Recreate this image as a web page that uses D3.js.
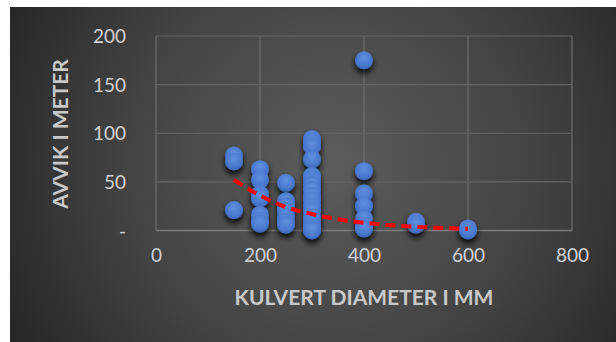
<!DOCTYPE html>
<html>
<head>
<meta charset="utf-8">
<script src="https://cdn.jsdelivr.net/npm/d3@7"></script>
<style>
  html, body { margin: 0; padding: 0; background: #ffffff; }
  svg { display: block; }
</style>
</head>
<body>
<div id="chart"></div>
<script>
// Culvert diameter (mm) vs deviation (m)
const diameters = [150, 150, 150,
  200, 200, 200, 200, 200, 200, 200,
  250, 250, 250, 250, 250, 250, 250,
  300, 300, 300, 300, 300, 300, 300, 300, 300, 300, 300, 300, 300, 300, 300, 300, 300, 300,
  400, 400, 400, 400, 400, 400, 400,
  500, 500,
  600, 600];
const deviations = [77, 71, 21,
  63, 52, 37, 33, 16, 10, 7,
  49, 30, 25, 20, 14, 9, 6,
  94, 90, 86, 73, 56, 52, 47, 42, 36, 31, 25, 20, 14, 10, 6, 3, 1, 0,
  175, 61, 38, 25, 12, 5, 2,
  9, 6,
  2, 0];

// Trend line (dashed red) sampled along the diameter range
const trendX = [150, 200, 250, 300, 350, 400, 450, 500, 550, 600];
const trendY = [52, 36, 24, 17, 11.5, 8, 5.5, 3.8, 2.6, 1.8];

const xTicks = [0, 200, 400, 600, 800];
const yTicks = [0, 50, 100, 150, 200];

const W = 616, H = 342;
const svg = d3.select("#chart").append("svg").attr("width", W).attr("height", H);
const defs = svg.append("defs");

const bg = defs.append("radialGradient").attr("id", "bg")
  .attr("gradientUnits", "userSpaceOnUse")
  .attr("cx", 330).attr("cy", 165).attr("r", 380);
bg.append("stop").attr("offset", "0%").attr("stop-color", "#5c5c5c");
bg.append("stop").attr("offset", "55%").attr("stop-color", "#424242");
bg.append("stop").attr("offset", "100%").attr("stop-color", "#232323");

const dot = defs.append("radialGradient").attr("id", "dot")
  .attr("cx", "50%").attr("cy", "35%").attr("r", "65%");
dot.append("stop").attr("offset", "0%").attr("stop-color", "#6090de");
dot.append("stop").attr("offset", "70%").attr("stop-color", "#4878ce");
dot.append("stop").attr("offset", "100%").attr("stop-color", "#3c66b6");

const shadow = defs.append("filter").attr("id", "shadow")
  .attr("x", "-60%").attr("y", "-60%").attr("width", "220%").attr("height", "240%");
shadow.append("feGaussianBlur").attr("in", "SourceAlpha").attr("stdDeviation", 3).attr("result", "b");
shadow.append("feOffset").attr("in", "b").attr("dx", 0).attr("dy", 3.5).attr("result", "o");
shadow.append("feComponentTransfer").attr("in", "o").attr("result", "s")
  .append("feFuncA").attr("type", "linear").attr("slope", 0.95);
const merge = shadow.append("feMerge");
merge.append("feMergeNode").attr("in", "s");
merge.append("feMergeNode").attr("in", "SourceGraphic");

svg.append("rect").attr("x", 10).attr("y", 7).attr("width", W - 10).attr("height", H - 7)
  .attr("fill", "url(#bg)");

const x = d3.scaleLinear().domain([0, 800]).range([156, 572]);
const y = d3.scaleLinear().domain([0, 200]).range([230.5, 36]);

const font = "Lato, 'Open Sans', sans-serif";

// gridlines
const grid = svg.append("g");
grid.selectAll("line.v").data(xTicks).join("line")
  .attr("x1", d => x(d)).attr("x2", d => x(d))
  .attr("y1", y(200)).attr("y2", y(0))
  .attr("stroke", "#6e6e6e").attr("stroke-width", 1.2);
grid.selectAll("line.h").data(yTicks).join("line")
  .attr("x1", x(0)).attr("x2", x(800))
  .attr("y1", d => y(d)).attr("y2", d => y(d))
  .attr("stroke", d => d === 0 ? "#7c7c7c" : "#666666").attr("stroke-width", d => d === 0 ? 1.6 : 1.2);

// axes (labels only)
const xAxis = svg.append("g").attr("transform", `translate(0,${y(0) + 22})`)
  .call(d3.axisBottom(x).tickValues(xTicks).tickSize(0).tickFormat(d3.format("d")));
const yAxis = svg.append("g").attr("transform", `translate(${x(0) - 27},0)`)
  .call(d3.axisLeft(y).tickValues(yTicks).tickSize(0).tickFormat(d => d === 0 ? "-" : d));
[xAxis, yAxis].forEach(a => {
  a.select(".domain").remove();
  a.selectAll("text").attr("fill", "#d2d2d2").style("font-family", font).style("font-size", "19px");
});
xAxis.selectAll("text").attr("dy", "0.35em");
yAxis.selectAll("text").attr("dy", "0.35em");

// points
const pts = diameters.map((d, i) => ({ d, v: deviations[i] }));
svg.append("g").attr("filter", "url(#shadow)")
  .selectAll("circle").data(pts).join("circle")
  .attr("cx", p => x(p.d)).attr("cy", p => y(p.v)).attr("r", 9)
  .attr("fill", "url(#dot)");

// trend line
const trend = trendX.map((t, i) => [t, trendY[i]]);
svg.append("path").datum(trend)
  .attr("d", d3.line().x(p => x(p[0])).y(p => y(p[1])).curve(d3.curveMonotoneX))
  .attr("fill", "none").attr("stroke", "#ff0000").attr("stroke-width", 4)
  .attr("stroke-dasharray", "10,6");

// axis titles
svg.append("text").attr("x", 364).attr("y", 298).attr("dy", "0.35em")
  .attr("text-anchor", "middle").attr("fill", "#c9c9c9")
  .style("font-family", font).style("font-weight", "bold").style("font-size", "21px")
  .text("KULVERT DIAMETER I MM");
svg.append("text").attr("transform", "translate(61,134) rotate(-90)").attr("dy", "0.35em")
  .attr("text-anchor", "middle").attr("fill", "#c9c9c9")
  .style("font-family", font).style("font-weight", "bold").style("font-size", "21px")
  .text("AVVIK I METER");
</script>
</body>
</html>
